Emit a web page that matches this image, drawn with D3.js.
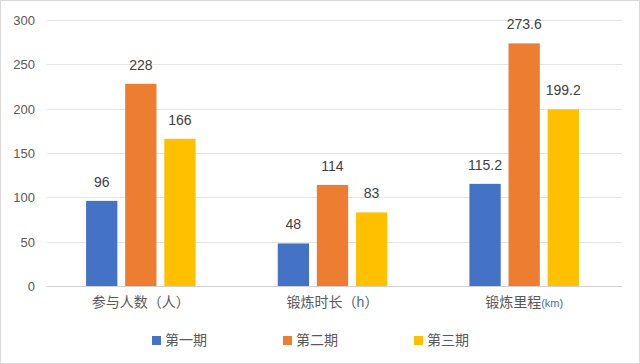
<!DOCTYPE html>
<html>
<head>
<meta charset="utf-8">
<script src="https://cdn.jsdelivr.net/npm/d3@7"></script>
<style>
  body { margin: 0; background: #fff; }
  text { font-family: "Noto Sans CJK SC", "Microsoft YaHei", sans-serif; }
</style>
</head>
<body>
<svg id="svg" width="640" height="364"></svg>
<script>
// data
var categories = ['参与人数（人）', '锻炼时长（h）', '锻炼里程(km)'];
var series = ['第一期', '第二期', '第三期'];
var period1 = [96, 48, 115.2];
var period2 = [228, 114, 273.6];
var period3 = [166, 83, 199.2];
var yTicks = [0, 50, 100, 150, 200, 250, 300];
var colors = ['#4472C4', '#ED7D31', '#FFC000'];

var svg = d3.select('svg');
var margin = { left: 47, right: 18, top: 20, bottom: 78 };
var width = 640, height = 364;

// chart frame
svg.append('rect')
  .attr('x', 0.5).attr('y', 0.5)
  .attr('width', width - 1).attr('height', height - 1)
  .attr('fill', 'none').attr('stroke', '#d9d9d9');

var x0 = d3.scaleBand()
  .domain(categories)
  .range([margin.left, width - margin.right])
  .paddingInner(0).paddingOuter(0);

var x1 = d3.scaleBand()
  .domain(series)
  .range([-2, x0.bandwidth() - 2])
  .paddingInner(0.2).paddingOuter(1.05);

var y = d3.scaleLinear()
  .domain([0, 300])
  .range([height - margin.bottom, margin.top]);

// gridlines
svg.append('g')
  .selectAll('line')
  .data(yTicks)
  .enter().append('line')
  .attr('x1', margin.left).attr('x2', width - margin.right)
  .attr('y1', function(d) { return Math.round(y(d)) + 0.5; })
  .attr('y2', function(d) { return Math.round(y(d)) + 0.5; })
  .attr('stroke', function(d) { return d === 0 ? '#d0d0d0' : '#e4e4e4'; })
  .attr('stroke-width', 1);

// y axis labels
var yAxis = d3.axisLeft(y).tickValues(yTicks).tickSize(0).tickPadding(12);
var ya = svg.append('g')
  .attr('transform', 'translate(' + margin.left + ',0)')
  .call(yAxis);
ya.select('.domain').remove();
ya.selectAll('text')
  .attr('fill', '#595959')
  .style('font-size', '13px')
  .style('font-family', '"Liberation Sans", Arial, sans-serif')
  .attr('dy', '0.35em');

var rows = categories.map(function(c, i) {
  return { cat: c, values: [period1[i], period2[i], period3[i]] };
});

var groups = svg.selectAll('g.grp')
  .data(rows)
  .enter().append('g')
  .attr('class', 'grp')
  .attr('transform', function(d) { return 'translate(' + x0(d.cat) + ',0)'; });

groups.selectAll('rect')
  .data(function(d) { return d.values.map(function(v, j) { return { s: series[j], v: v, j: j }; }); })
  .enter().append('rect')
  .attr('x', function(d) { return x1(d.s); })
  .attr('y', function(d) { return y(d.v); })
  .attr('width', x1.bandwidth())
  .attr('height', function(d) { return y(0) - y(d.v); })
  .attr('fill', function(d) { return colors[d.j]; });

groups.selectAll('text.val')
  .data(function(d) { return d.values.map(function(v, j) { return { s: series[j], v: v }; }); })
  .enter().append('text')
  .attr('class', 'val')
  .attr('x', function(d) { return x1(d.s) + x1.bandwidth() / 2; })
  .attr('y', function(d) { return y(d.v) - 14; })
  .attr('text-anchor', 'middle')
  .attr('fill', '#404040')
  .style('font-size', '14px')
  .style('font-family', '"Liberation Sans", Arial, sans-serif')
  .text(function(d) { return d.v; });

// category labels, unit part in a lighter style
var catParts = [
  ['参与人数（人）', ''],
  ['锻炼时长（', 'h', '）'],
  ['锻炼里程', '(km)']
];
var catLabels = svg.selectAll('text.cat')
  .data(categories)
  .enter().append('text')
  .attr('class', 'cat')
  .attr('x', function(d) { return x0(d) + x0.bandwidth() / 2 - 2; })
  .attr('y', height - margin.bottom + 21)
  .attr('text-anchor', 'middle')
  .attr('fill', '#595959')
  .style('font-size', '14px');

catLabels.each(function(d, i) {
  var t = d3.select(this);
  var parts = catParts[i];
  t.append('tspan').text(parts[0]);
  if (i === 1) {
    t.append('tspan').attr('fill', '#4a6aa8').style('font-family', '"Liberation Sans", Arial, sans-serif').text(parts[1]);
    t.append('tspan').text(parts[2]);
  } else if (i === 2) {
    t.append('tspan').attr('fill', '#4a6aa8').style('font-size', '11px')
      .style('font-family', '"Liberation Sans", Arial, sans-serif').text(parts[1]);
  }
});

// legend
var legendX = [152, 283, 414];
var legend = svg.selectAll('g.leg')
  .data(series)
  .enter().append('g')
  .attr('class', 'leg')
  .attr('transform', function(d, i) { return 'translate(' + legendX[i] + ',' + 336 + ')'; });

legend.append('rect')
  .attr('width', 9).attr('height', 9)
  .attr('fill', function(d, i) { return colors[i]; });

legend.append('text')
  .attr('x', 13).attr('y', 4.5)
  .attr('dy', '0.35em')
  .attr('fill', '#595959')
  .style('font-size', '14px')
  .text(function(d) { return d; });
</script>
</body>
</html>
